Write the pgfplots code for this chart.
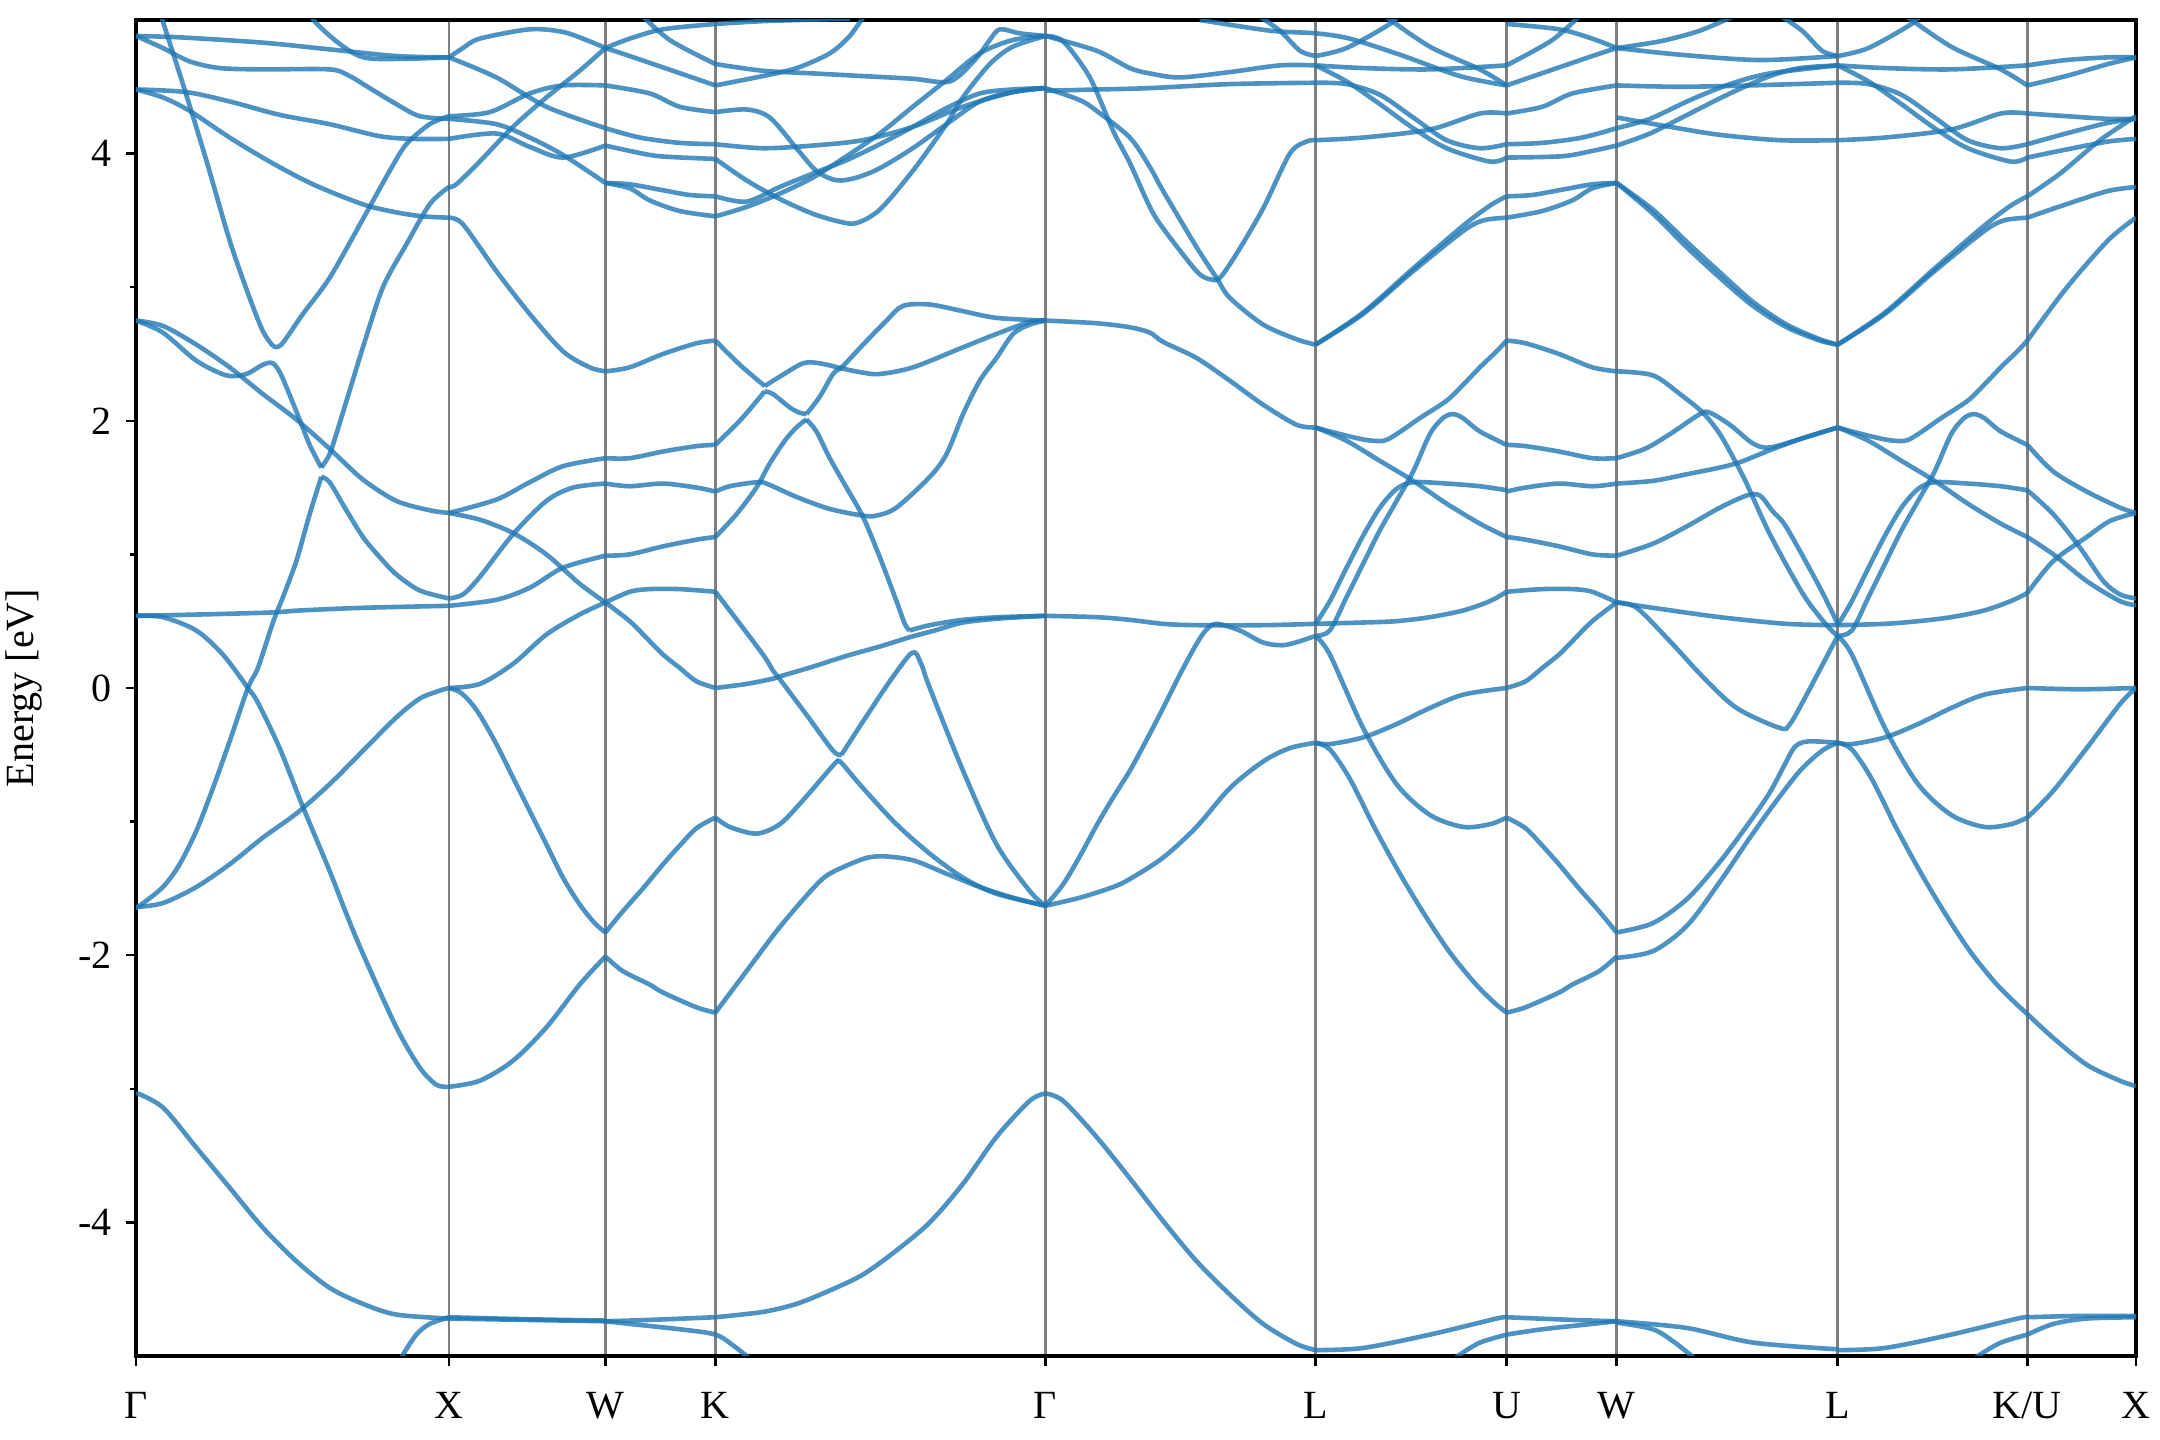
\documentclass[border=0pt]{standalone}
\usepackage{fontspec}
\setmainfont{Liberation Serif}
\usepackage{pgfplots}
\pgfplotsset{compat=1.18}
\usetikzlibrary{calc}
\definecolor{tabblue}{RGB}{31,119,180}
\begin{document}
\fontsize{10}{12}\selectfont
\begin{tikzpicture}
\begin{axis}[
  width=500pt, height=334pt, scale only axis,
  xmin=136.4, xmax=2136, ymin=-5, ymax=5,
  xtick={136.4,449.3,605.7,715.7,1045.7,1315.7,1506.7,1616.7,1837.7,2027.3,2136},
  xticklabels={Γ,X,W,K,Γ,L,U,W,L,K/U,X},
  xticklabel style={yshift=-3pt},
  ytick={-4,-2,0,2,4}, yticklabels={-4,-2,0,2,4},
  minor ytick={-3,-1,1,3},
  tick pos=left, tick align=outside,
  major tick length=2.6pt, minor tick length=1.5pt,
  tick style={black, line width=0.6pt},
  xmajorgrids, grid style={black!50, line width=0.6pt},
  axis line style={line width=0.8pt},
  ylabel={Energy [eV]},
  ylabel style={at={(axis description cs:0,0.5)}, anchor=center, yshift=28pt},
  cycle list={{tabblue}},
  every axis plot post/.append style={no marks, solid, smooth, tension=0.5, line width=1.15pt, color=tabblue, opacity=0.8},
]
% ---------------- Gamma - X ----------------
\addplot coordinates {(136.4,-3.03) (163.3,-3.14) (196.7,-3.44) (230,-3.74) (263.3,-4.04) (296.7,-4.29) (330,-4.49) (363.3,-4.61) (396.7,-4.69) (449.3,-4.72)};
\addplot coordinates {(395,-5.1) (403.3,-4.99) (416.7,-4.84) (430,-4.76) (449.3,-4.71)};
\addplot coordinates {(136.4,-1.64) (163.3,-1.61) (196.7,-1.49) (230,-1.32) (263.3,-1.12) (296.7,-0.94) (330,-0.72) (363.3,-0.47) (396.7,-0.22) (420,-0.08) (440,-0.02) (449.3,0)};
\addplot coordinates {(136.4,-1.64) (140,-1.63) (163.3,-1.49) (180,-1.32) (196.7,-1.07) (213.3,-0.75) (230,-0.40) (248.3,0.0) (258.3,0.15) (273.3,0.49) (283.3,0.68) (296.7,0.95) (310,1.30) (321.7,1.58)};
\addplot coordinates {(321.7,1.58) (330,1.54) (346.7,1.33) (363.3,1.13) (380,0.98) (396.7,0.85) (420,0.73) (449.3,0.67)};
\addplot coordinates {(136.4,0.54) (200,0.55) (271.7,0.565) (300,0.58) (363.3,0.60) (449.3,0.615)};
\addplot coordinates {(136.4,0.54) (163.3,0.53) (196.7,0.43) (223.3,0.25) (248.3,0.0) (258.3,-0.11) (280,-0.45) (303.3,-0.89) (330,-1.37) (346.7,-1.69) (363.3,-1.99) (396.7,-2.54) (420,-2.84) (436.7,-2.97) (449.3,-2.985)};
\addplot coordinates {(136.4,2.75) (163.3,2.71) (196.7,2.57) (230,2.40) (263.3,2.20) (296.7,2.01) (330,1.79) (363.3,1.56) (396.7,1.40) (430,1.33) (449.3,1.31)};
\addplot coordinates {(136.4,2.75) (163.3,2.66) (196.7,2.45) (226.7,2.34) (246.7,2.35) (263.3,2.42) (273.3,2.43) (281.7,2.34) (296.7,2.07) (310,1.82) (321.7,1.65)};
\addplot coordinates {(321.7,1.65) (330,1.75) (338.3,1.94) (363.3,2.55) (383.3,3.00) (406.7,3.32) (430,3.62) (449.3,3.75)};
\addplot coordinates {(158,5.15) (163.3,4.99) (183.3,4.52) (206.7,3.95) (230,3.35) (250,2.92) (263.3,2.67) (273.3,2.56)};
\addplot coordinates {(273.3,2.56) (281.7,2.57) (303.3,2.80) (330,3.07) (363.3,3.51) (390,3.87) (406.7,4.07) (430,4.22) (449.3,4.28)};
\addplot coordinates {(136.4,4.48) (163.3,4.42) (190,4.32) (230,4.12) (270,3.94) (313.3,3.77) (363.3,3.62) (396.7,3.56) (423.3,3.53) (449.3,3.52)};
\addplot coordinates {(136.4,4.48) (186.7,4.46) (230,4.39) (280,4.29) (330,4.22) (380,4.13) (413.3,4.11) (449.3,4.11)};
\addplot coordinates {(136.4,4.88) (180,4.87) (263.3,4.83) (330,4.78) (396.7,4.73) (449.3,4.72)};
\addplot coordinates {(136.4,4.88) (163.3,4.79) (190,4.69) (220,4.64) (263.3,4.63) (330,4.63) (350,4.58) (370,4.49) (396.7,4.37) (420,4.28) (449.3,4.26)};
\addplot coordinates {(308,5.1) (315,4.99) (336.7,4.84) (356.7,4.74) (373.3,4.71) (410,4.71) (449.3,4.72)};
% ---------------- X - W ----------------
\addplot coordinates {(449.3,-4.72) (527,-4.73) (605.7,-4.74)};
\addplot coordinates {(449.3,-4.71) (527,-4.725) (605.7,-4.735)};
\addplot coordinates {(449.3,-2.985) (480,-2.94) (513.3,-2.79) (546.7,-2.54) (580,-2.22) (605.7,-2.01)};
\addplot coordinates {(449.3,0) (460,-0.03) (470,-0.10) (480,-0.20) (496.7,-0.42) (513.3,-0.67) (530,-0.92) (546.7,-1.17) (563.3,-1.42) (580,-1.62) (595,-1.76) (605.7,-1.83)};
\addplot coordinates {(449.3,0) (480,0.03) (513.3,0.18) (546.7,0.40) (580,0.55) (605.7,0.64)};
\addplot coordinates {(449.3,0.615) (496.7,0.66) (530,0.75) (563.3,0.90) (605.7,0.99)};
\addplot coordinates {(449.3,0.67) (463.3,0.70) (480,0.83) (513.3,1.15) (546.7,1.40) (573.3,1.50) (605.7,1.53)};
\addplot coordinates {(449.3,1.31) (480,1.26) (513.3,1.16) (546.7,1.00) (580,0.78) (605.7,0.64)};
\addplot coordinates {(449.3,1.31) (496.7,1.41) (530,1.54) (563.3,1.66) (605.7,1.72)};
\addplot coordinates {(449.3,3.52) (463.3,3.47) (496.7,3.12) (530,2.80) (563.3,2.52) (590,2.40) (605.7,2.37)};
\addplot coordinates {(449.3,4.72) (463.3,4.79) (480,4.86) (530,4.93) (563.3,4.91) (590,4.84) (605.7,4.79)};
\addplot coordinates {(449.3,3.75) (456.7,3.77) (480,3.94) (513.3,4.20) (546.7,4.42) (580,4.62) (605.7,4.79)};
\addplot coordinates {(449.3,4.28) (490,4.31) (530,4.45) (563.3,4.51) (605.7,4.51)};
\addplot coordinates {(449.3,4.26) (496.7,4.22) (530,4.12) (563.3,3.99) (605.7,3.78)};
\addplot coordinates {(449.3,4.11) (496.7,4.15) (530,4.05) (563.3,3.97) (605.7,4.06)};
\addplot coordinates {(449.3,4.72) (496.7,4.57) (546.7,4.35) (605.7,4.19)};
% ---------------- W - K ----------------
\addplot coordinates {(605.7,-4.74) (650,-4.73) (715.7,-4.71)};
\addplot coordinates {(605.7,-4.74) (630,-4.76) (680,-4.80) (715.7,-4.84) (735,-4.93) (755,-5.05)};
\addplot coordinates {(605.7,-2.01) (623.3,-2.12) (650,-2.22) (663.3,-2.28) (696.7,-2.39) (715.7,-2.43)};
\addplot coordinates {(605.7,-1.83) (623.3,-1.67) (643.3,-1.50) (663.3,-1.32) (680,-1.18) (696.7,-1.05) (715.7,-0.97)};
\addplot coordinates {(605.7,0.64) (630,0.50) (650,0.35) (663.3,0.25) (680,0.15) (696.7,0.05) (715.7,0.0)};
\addplot coordinates {(605.7,0.64) (630,0.72) (650,0.74) (680,0.74) (715.7,0.72)};
\addplot coordinates {(605.7,0.99) (630,1.00) (663.3,1.06) (696.7,1.11) (715.7,1.13)};
\addplot coordinates {(605.7,1.53) (630,1.51) (663.3,1.53) (696.7,1.50) (715.7,1.47)};
\addplot coordinates {(605.7,1.72) (630,1.72) (663.3,1.77) (696.7,1.81) (715.7,1.82)};
\addplot coordinates {(605.7,2.37) (630,2.40) (663.3,2.50) (696.7,2.58) (715.7,2.60)};
\addplot coordinates {(605.7,3.78) (630,3.74) (650,3.65) (680,3.57) (715.7,3.53)};
\addplot coordinates {(605.7,3.78) (630,3.77) (660,3.73) (690,3.69) (715.7,3.68)};
\addplot coordinates {(605.7,4.06) (630,4.02) (660,3.98) (715.7,3.96)};
\addplot coordinates {(605.7,4.19) (640,4.12) (680,4.08) (715.7,4.07)};
\addplot coordinates {(605.7,4.51) (650,4.45) (680,4.35) (715.7,4.31)};
\addplot coordinates {(605.7,4.79) (630,4.73) (673,4.62) (715.7,4.51)};
\addplot coordinates {(605.7,4.79) (630,4.86) (663,4.93) (715.7,4.97)};
\addplot coordinates {(640,5.05) (670,4.85) (715.7,4.67)};
% ---------------- K - Gamma ----------------
\addplot coordinates {(715.7,-4.71) (763.3,-4.67) (796.7,-4.61) (830,-4.51) (863.3,-4.39) (896.7,-4.21) (930,-4.00) (963.3,-3.71) (996.7,-3.36) (1030,-3.09) (1045.7,-3.035)};
\addplot coordinates {(715.7,-2.43) (746.7,-2.12) (780,-1.79) (813.3,-1.50) (830,-1.39) (863.3,-1.28) (883.3,-1.26) (913.3,-1.29) (946.7,-1.39) (980,-1.49) (1013.3,-1.57) (1045.7,-1.63)};
\addplot coordinates {(715.7,-0.97) (730,-1.04) (756.7,-1.09) (780,-1.02) (803.3,-0.84) (833.3,-0.58) (838,-0.55)};
\addplot coordinates {(838,-0.55) (841.7,-0.56) (863.3,-0.75) (896.7,-1.02) (930,-1.24) (963.3,-1.42) (996.7,-1.54) (1045.7,-1.63)};
\addplot coordinates {(715.7,0.72) (730,0.58) (763.3,0.25) (773.3,0.13) (781.7,0.05) (806.7,-0.20) (833.3,-0.47) (841.7,-0.50)};
\addplot coordinates {(841.7,-0.50) (863.3,-0.25) (890,0.05) (910,0.25) (916.7,0.26)};
\addplot coordinates {(916.7,0.26) (923,0.15) (930,0.0) (963.3,-0.62) (996.7,-1.17) (1030,-1.52) (1045.7,-1.63)};
\addplot coordinates {(715.7,0.0) (746.7,0.03) (773.3,0.07) (781.7,0.09) (813.3,0.16) (846.7,0.24) (880,0.31) (910,0.38) (935,0.43) (963.3,0.49) (1000,0.52) (1045.7,0.54)};
\addplot coordinates {(715.7,1.13) (736.7,1.30) (756.7,1.50) (770,1.68) (785,1.85) (796.7,1.95) (806.7,2.01)};
\addplot coordinates {(806.7,2.01) (816.7,1.92) (830,1.72) (846.7,1.50) (863.3,1.28) (880,0.98) (896.7,0.65) (905,0.48) (910,0.43)};
\addplot coordinates {(910,0.43) (930,0.47) (963.3,0.51) (1000,0.53) (1045.7,0.54)};
\addplot coordinates {(715.7,1.47) (730,1.51) (756.7,1.54) (766.7,1.53) (796.7,1.43) (830,1.34) (863.3,1.29) (876.7,1.29) (896.7,1.35) (930,1.58) (946.7,1.75) (963.3,2.05) (980,2.30) (996.7,2.47) (1013.3,2.65) (1030,2.72) (1045.7,2.75)};
\addplot coordinates {(715.7,1.82) (740,2.00) (755,2.13) (765,2.22)};
\addplot coordinates {(765,2.22) (773.3,2.20) (790,2.10) (800,2.06) (806.7,2.05)};
\addplot coordinates {(806.7,2.05) (820,2.18) (833.3,2.35) (843.3,2.41) (863.3,2.57) (886.7,2.75) (903.3,2.86) (930,2.87) (963.3,2.82) (996.7,2.77) (1045.7,2.75)};
\addplot coordinates {(715.7,2.60) (740,2.42) (765,2.26)};
\addplot coordinates {(765,2.26) (780,2.33) (803.3,2.43) (820,2.43) (843.3,2.39) (863.3,2.36) (880,2.35) (913.3,2.40) (963.3,2.55) (996.7,2.65) (1030,2.74) (1045.7,2.75)};
\addplot coordinates {(715.7,4.97) (760,4.99) (800,5.0) (850,5.01)};
\addplot coordinates {(715.7,4.51) (763,4.58) (797,4.64) (830,4.75) (850,4.88) (866,5.05)};
\addplot coordinates {(715.7,4.67) (763,4.62) (813,4.60) (863,4.58) (913,4.56) (950,4.54) (975,4.70) (990,4.85) (1000,4.93) (1020,4.90) (1045.7,4.88)};
\addplot coordinates {(715.7,4.31) (746.7,4.33) (770,4.27) (796.7,4.04) (816.7,3.87) (836.7,3.80) (856.7,3.82) (880,3.89) (913,4.04) (946.7,4.22) (980,4.39) (1013,4.46) (1045.7,4.49)};
\addplot coordinates {(715.7,3.96) (746.7,3.80) (780,3.66) (813,3.55) (840,3.49) (856.7,3.48) (880,3.58) (913,3.87) (946.7,4.22) (963,4.42) (990,4.67) (1013,4.80) (1045.7,4.88)};
\addplot coordinates {(715.7,3.68) (746.7,3.64) (780,3.75) (813,3.85) (846.7,3.95) (880,4.07) (913,4.20) (946.7,4.34) (980,4.45) (1013,4.48) (1045.7,4.49)};
\addplot coordinates {(715.7,3.53) (746.7,3.60) (780,3.70) (813,3.82) (846.7,3.98) (880,4.15) (913,4.35) (946.7,4.55) (980,4.75) (1013,4.85) (1045.7,4.88)};
\addplot coordinates {(715.7,4.07) (763,4.04) (813,4.06) (863,4.10) (913,4.20) (963,4.35) (1013,4.46) (1045.7,4.49)};
% ---------------- Gamma - L ----------------
\addplot coordinates {(1045.7,-3.035) (1063.3,-3.09) (1096.7,-3.36) (1130,-3.67) (1163.3,-3.99) (1196.7,-4.29) (1230,-4.54) (1263.3,-4.76) (1296.7,-4.91) (1315.7,-4.956)};
\addplot coordinates {(1045.7,-1.63) (1080,-1.57) (1113.3,-1.49) (1130,-1.43) (1163.3,-1.27) (1196.7,-1.04) (1230,-0.75) (1263.3,-0.55) (1290,-0.45) (1315.7,-0.41)};
\addplot coordinates {(1045.7,-1.63) (1063.3,-1.47) (1080,-1.26) (1096.7,-1.03) (1113.3,-0.82) (1130,-0.62) (1146.7,-0.39) (1163.3,-0.15) (1180,0.10) (1196.7,0.33) (1207,0.44) (1217,0.48) (1240,0.43) (1263.3,0.34) (1283,0.32) (1300,0.35) (1315.7,0.39)};
\addplot coordinates {(1045.7,0.54) (1096.7,0.53) (1130,0.51) (1163.3,0.48) (1197,0.47) (1263.3,0.47) (1315.7,0.48)};
\addplot coordinates {(1045.7,2.75) (1096.7,2.73) (1130,2.70) (1150,2.66) (1163.3,2.59) (1196.7,2.47) (1230,2.30) (1263.3,2.12) (1296.7,1.97) (1315.7,1.95)};
\addplot coordinates {(1045.7,4.49) (1080,4.40) (1096.7,4.32) (1130,4.12) (1150,3.90) (1163.3,3.72) (1196.7,3.30) (1216.7,3.07) (1230,2.92) (1263.3,2.72) (1296.7,2.61) (1315.7,2.57)};
\addplot coordinates {(1045.7,4.88) (1063.3,4.84) (1090,4.57) (1113.3,4.17) (1130,3.93) (1150,3.60) (1163.3,3.44) (1196.7,3.12) (1210,3.06) (1220,3.07) (1236.7,3.25) (1263.3,3.59) (1290,4.00) (1306.7,4.09) (1315.7,4.10)};
\addplot coordinates {(1045.7,4.88) (1096.7,4.77) (1130,4.64) (1150,4.60) (1180,4.57) (1230,4.61) (1280,4.66) (1315.7,4.66)};
\addplot coordinates {(1045.7,4.47) (1100,4.48) (1150,4.49) (1230,4.52) (1315.7,4.53)};
\addplot coordinates {(1200,5.0) (1270,4.92) (1315.7,4.90) (1350,4.86) (1400,4.74) (1460,4.58) (1506.7,4.51)};
\addplot coordinates {(1255,5.05) (1280,4.92) (1300,4.77) (1315.7,4.73)};
% ---------------- L - U ----------------
\addplot coordinates {(1315.7,-4.956) (1363.3,-4.94) (1430,-4.84) (1496.7,-4.72) (1506.7,-4.71)};
\addplot coordinates {(1450,-5.05) (1460,-4.99) (1480,-4.90) (1506.7,-4.84)};
\addplot coordinates {(1315.7,-0.41) (1330,-0.46) (1350,-0.68) (1375,-1.05) (1400,-1.39) (1425,-1.70) (1450,-1.98) (1475,-2.21) (1495,-2.36) (1506.7,-2.43)};
\addplot coordinates {(1315.7,-0.41) (1330,-0.42) (1363.3,-0.37) (1396.7,-0.27) (1430,-0.15) (1463.3,-0.05) (1506.7,0.0)};
\addplot coordinates {(1315.7,0.39) (1330,0.25) (1363.3,-0.30) (1396.7,-0.72) (1430,-0.95) (1463.3,-1.04) (1490,-1.02) (1506.7,-0.97)};
\addplot coordinates {(1315.7,0.48) (1363.3,0.49) (1396.7,0.50) (1430,0.53) (1463.3,0.58) (1490,0.65) (1506.7,0.72)};
\addplot coordinates {(1315.7,0.48) (1330,0.65) (1346.7,0.90) (1363.3,1.14) (1380,1.35) (1396.7,1.49) (1413.3,1.54) (1446.7,1.53) (1480,1.51) (1506.7,1.48)};
\addplot coordinates {(1315.7,0.39) (1330,0.43) (1346.7,0.68) (1363.3,0.93) (1380,1.18) (1396.7,1.40) (1413.3,1.62) (1430,1.90) (1443,2.02) (1453,2.05) (1463,2.02) (1480,1.92) (1506.7,1.82)};
\addplot coordinates {(1315.7,1.95) (1330,1.92) (1363.3,1.86) (1383.3,1.85) (1396.7,1.90) (1420,2.02) (1446.7,2.15) (1463.3,2.27) (1480,2.40) (1496.7,2.52) (1506.7,2.60)};
\addplot coordinates {(1315.7,1.95) (1346.7,1.85) (1380,1.70) (1413.3,1.55) (1446.7,1.38) (1480,1.23) (1506.7,1.13)};
\addplot coordinates {(1315.7,2.57) (1363.3,2.80) (1413.3,3.12) (1463.3,3.42) (1483.3,3.50) (1506.7,3.52)};
\addplot coordinates {(1315.7,2.57) (1363.3,2.81) (1413.3,3.14) (1463.3,3.46) (1490,3.61) (1506.7,3.68)};
\addplot coordinates {(1315.7,4.10) (1363.3,4.12) (1430,4.18) (1480,4.30) (1506.7,4.30)};
\addplot coordinates {(1315.7,4.53) (1346.7,4.52) (1380,4.44) (1413.3,4.27) (1446.7,4.10) (1480,4.04) (1506.7,4.07)};
\addplot coordinates {(1315.7,4.66) (1363.3,4.64) (1430,4.63) (1506.7,4.66)};
\addplot coordinates {(1315.7,4.66) (1346.7,4.54) (1380,4.37) (1413.3,4.19) (1446.7,4.04) (1490,3.94) (1506.7,3.97)};
\addplot coordinates {(1315.7,4.73) (1346.7,4.79) (1390,4.97) (1400,5.05)};
\addplot coordinates {(1385,5.03) (1430,4.80) (1480,4.63) (1506.7,4.51)};
% ---------------- U - W (mirror of W-K) ----------------
\addplot coordinates {(1506.7,-4.71) (1572.4,-4.73) (1616.7,-4.74)};
\addplot coordinates {(1506.7,-4.84) (1542.4,-4.80) (1592.4,-4.76) (1616.7,-4.74)};
\addplot coordinates {(1506.7,-2.43) (1525.7,-2.39) (1559.1,-2.28) (1572.4,-2.22) (1599.1,-2.12) (1616.7,-2.01)};
\addplot coordinates {(1506.7,-0.97) (1525.7,-1.05) (1542.4,-1.18) (1559.1,-1.32) (1579.1,-1.50) (1599.1,-1.67) (1616.7,-1.83)};
\addplot coordinates {(1506.7,0.0) (1525.7,0.05) (1542.4,0.15) (1559.1,0.25) (1572.4,0.35) (1592.4,0.50) (1616.7,0.64)};
\addplot coordinates {(1506.7,0.72) (1542.4,0.74) (1572.4,0.74) (1592.4,0.72) (1616.7,0.64)};
\addplot coordinates {(1506.7,1.13) (1525.7,1.11) (1559.1,1.06) (1592.4,1.00) (1616.7,0.99)};
\addplot coordinates {(1506.7,1.47) (1525.7,1.50) (1559.1,1.53) (1592.4,1.51) (1616.7,1.53)};
\addplot coordinates {(1506.7,1.82) (1525.7,1.81) (1559.1,1.77) (1592.4,1.72) (1616.7,1.72)};
\addplot coordinates {(1506.7,2.60) (1525.7,2.58) (1559.1,2.50) (1592.4,2.40) (1616.7,2.37)};
\addplot coordinates {(1506.7,3.52) (1542.4,3.57) (1572.4,3.65) (1592.4,3.74) (1616.7,3.78)};
\addplot coordinates {(1506.7,3.68) (1532.4,3.69) (1562.4,3.73) (1592.4,3.77) (1616.7,3.78)};
\addplot coordinates {(1506.7,3.97) (1562.4,3.98) (1592.4,4.02) (1616.7,4.06)};
\addplot coordinates {(1506.7,4.07) (1542.4,4.08) (1582.4,4.12) (1616.7,4.19)};
\addplot coordinates {(1506.7,4.30) (1542.4,4.35) (1572.4,4.45) (1616.7,4.51)};
\addplot coordinates {(1506.7,4.51) (1549.4,4.62) (1592.4,4.73) (1616.7,4.79)};
\addplot coordinates {(1506.7,4.97) (1559.4,4.93) (1592.4,4.86) (1616.7,4.79)};
\addplot coordinates {(1506.7,4.66) (1552.4,4.85) (1582.4,5.05)};
% ---------------- W - L ----------------
\addplot coordinates {(1616.7,-4.74) (1686.7,-4.79) (1753.3,-4.90) (1837.7,-4.95)};
\addplot coordinates {(1616.7,-4.75) (1653,-4.80) (1675,-4.90) (1700,-5.05)};
\addplot coordinates {(1616.7,-1.83) (1653,-1.76) (1687,-1.58) (1720,-1.30) (1750,-1.00) (1770,-0.78) (1785,-0.57) (1795,-0.44) (1808,-0.40) (1837.7,-0.41)};
\addplot coordinates {(1616.7,-2.02) (1653,-1.97) (1687,-1.78) (1720,-1.45) (1750,-1.12) (1775,-0.86) (1800,-0.62) (1822,-0.47) (1837.7,-0.41)};
\addplot coordinates {(1616.7,0.64) (1636.7,0.60) (1670,0.35) (1703.3,0.08) (1736.7,-0.15) (1780,-0.30) (1790,-0.27) (1806.7,-0.05) (1837.7,0.39)};
\addplot coordinates {(1616.7,0.64) (1653,0.60) (1720,0.53) (1786.7,0.48) (1837.7,0.47)};
\addplot coordinates {(1616.7,0.99) (1653,1.08) (1687,1.21) (1720,1.35) (1746.7,1.44) (1760,1.44) (1773,1.32) (1786.7,1.20) (1820,0.75) (1837.7,0.48)};
\addplot coordinates {(1616.7,2.37) (1653,2.34) (1680,2.20) (1703,2.06) (1720,1.90) (1735,1.70) (1746.7,1.53) (1770,1.15) (1803.3,0.70) (1826.7,0.47) (1837.7,0.39)};
\addplot coordinates {(1616.7,1.53) (1653,1.55) (1687,1.60) (1720,1.65) (1740,1.69) (1770,1.78) (1803,1.87) (1837.7,1.95)};
\addplot coordinates {(1616.7,1.72) (1645,1.79) (1670,1.90) (1700,2.05) (1710,2.06) (1730,1.97) (1753,1.83) (1770,1.80) (1803,1.87) (1837.7,1.95)};
\addplot coordinates {(1616.7,3.78) (1653,3.55) (1686.7,3.30) (1720,3.07) (1753,2.86) (1786.7,2.70) (1820,2.60) (1837.7,2.57)};
\addplot coordinates {(1616.7,3.78) (1653,3.58) (1686.7,3.34) (1720,3.11) (1753,2.89) (1786.7,2.72) (1820,2.61) (1837.7,2.57)};
\addplot coordinates {(1616.7,4.06) (1650,4.15) (1690,4.30) (1730,4.45) (1770,4.58) (1800,4.64) (1837.7,4.66)};
\addplot coordinates {(1616.7,4.19) (1650,4.26) (1690,4.40) (1730,4.52) (1770,4.60) (1837.7,4.66)};
\addplot coordinates {(1616.7,4.27) (1670,4.20) (1720,4.14) (1780,4.10) (1837.7,4.10)};
\addplot coordinates {(1616.7,4.51) (1680,4.50) (1750,4.51) (1837.7,4.53)};
\addplot coordinates {(1616.7,4.79) (1660,4.84) (1700,4.92) (1740,5.05)};
\addplot coordinates {(1616.7,4.79) (1680,4.74) (1760,4.70) (1837.7,4.73)};
% ---------------- L - K/U (equivalent to L-U) ----------------
\addplot coordinates {(1837.7,-4.956) (1885,-4.94) (1951.2,-4.84) (2017.4,-4.72) (2027.3,-4.71)};
\addplot coordinates {(1970,-5.05) (1980,-4.99) (2000.8,-4.90) (2027.3,-4.84)};
\addplot coordinates {(1837.7,-0.41) (1851.9,-0.46) (1871.7,-0.68) (1896.5,-1.05) (1921.3,-1.39) (1946.1,-1.70) (1970.9,-1.98) (1995.7,-2.21) (2015.6,-2.36) (2027.3,-2.44)};
\addplot coordinates {(1837.7,-0.41) (1851.9,-0.42) (1885,-0.37) (1918.1,-0.27) (1951.2,-0.15) (1984.2,-0.05) (2027.3,0.0)};
\addplot coordinates {(1837.7,0.39) (1851.9,0.25) (1885,-0.30) (1918.1,-0.72) (1951.2,-0.95) (1984.2,-1.04) (2010.7,-1.02) (2027.3,-0.97)};
\addplot coordinates {(1837.7,0.47) (1885,0.48) (1918.1,0.50) (1951.2,0.53) (1984.2,0.58) (2010.7,0.65) (2027.3,0.71)};
\addplot coordinates {(1837.7,0.47) (1851.9,0.65) (1868.5,0.90) (1885,1.14) (1901.5,1.35) (1918.1,1.49) (1934.6,1.54) (1967.7,1.53) (2000.8,1.51) (2027.3,1.48)};
\addplot coordinates {(1837.7,0.39) (1851.9,0.43) (1868.5,0.68) (1885,0.93) (1901.5,1.18) (1918.1,1.40) (1934.6,1.62) (1951.2,1.90) (1964.1,2.02) (1974,2.05) (1984.2,2.02) (2000.8,1.92) (2027.3,1.82)};
\addplot coordinates {(1837.7,1.95) (1851.9,1.92) (1885,1.86) (1904.8,1.85) (1918.1,1.90) (1941.2,2.02) (1967.7,2.15) (1984.2,2.27) (2000.8,2.40) (2017.4,2.52) (2027.3,2.60)};
\addplot coordinates {(1837.7,1.95) (1868.5,1.85) (1901.5,1.70) (1934.6,1.55) (1967.7,1.38) (2000.8,1.23) (2027.3,1.13)};
\addplot coordinates {(1837.7,2.57) (1885,2.80) (1934.6,3.12) (1984.2,3.42) (2004.1,3.50) (2027.3,3.52)};
\addplot coordinates {(1837.7,2.57) (1885,2.81) (1934.6,3.14) (1984.2,3.46) (2010.7,3.61) (2027.3,3.68)};
\addplot coordinates {(1837.7,4.10) (1885,4.12) (1951.2,4.18) (2000.8,4.30) (2027.3,4.30)};
\addplot coordinates {(1837.7,4.53) (1868.5,4.52) (1901.5,4.44) (1934.6,4.27) (1967.7,4.10) (2000.8,4.04) (2027.3,4.07)};
\addplot coordinates {(1837.7,4.66) (1885,4.64) (1951.2,4.63) (2027.3,4.66)};
\addplot coordinates {(1837.7,4.66) (1868.5,4.54) (1901.5,4.37) (1934.6,4.19) (1967.7,4.04) (2010.7,3.94) (2027.3,3.97)};
\addplot coordinates {(1837.7,4.73) (1868.5,4.79) (1911.5,4.97) (1921.5,5.05)};
\addplot coordinates {(1777,5.05) (1802,4.92) (1822,4.77) (1837.7,4.73)};
\addplot coordinates {(1906,5.03) (1951.2,4.80) (2000.8,4.63) (2027.3,4.51)};
% ---------------- K/U - X ----------------
\addplot coordinates {(2027.3,-4.71) (2080,-4.70) (2136,-4.70)};
\addplot coordinates {(2027.3,-4.84) (2053.3,-4.76) (2086.7,-4.72) (2136,-4.71)};
\addplot coordinates {(2027.3,-2.44) (2053.3,-2.62) (2086.7,-2.82) (2120,-2.94) (2136,-2.98)};
\addplot coordinates {(2027.3,-0.97) (2053.3,-0.77) (2086.7,-0.45) (2120,-0.12) (2136,0.0)};
\addplot coordinates {(2027.3,0.0) (2080,-0.01) (2136,0.0)};
\addplot coordinates {(2027.3,0.71) (2053.3,0.95) (2086.7,1.13) (2110,1.25) (2136,1.31)};
\addplot coordinates {(2027.3,1.13) (2053.3,1.00) (2086.7,0.80) (2120,0.65) (2136,0.62)};
\addplot coordinates {(2027.3,1.48) (2053.3,1.30) (2080,1.05) (2103.3,0.80) (2120,0.70) (2136,0.67)};
\addplot coordinates {(2027.3,1.82) (2053.3,1.62) (2086.7,1.47) (2120,1.35) (2136,1.31)};
\addplot coordinates {(2027.3,2.60) (2066,2.99) (2108,3.35) (2136,3.52)};
\addplot coordinates {(2027.3,3.52) (2066,3.62) (2108,3.72) (2136,3.75)};
\addplot coordinates {(2027.3,3.68) (2060,3.85) (2100,4.10) (2136,4.28)};
\addplot coordinates {(2027.3,3.97) (2066,4.03) (2108,4.09) (2136,4.11)};
\addplot coordinates {(2027.3,4.07) (2066,4.15) (2108,4.23) (2136,4.26)};
\addplot coordinates {(2027.3,4.30) (2066,4.28) (2108,4.26) (2136,4.26)};
\addplot coordinates {(2027.3,4.51) (2066,4.58) (2108,4.67) (2136,4.72)};
\addplot coordinates {(2027.3,4.66) (2066,4.70) (2108,4.72) (2136,4.72)};
\end{axis}
\pgfresetboundingbox
\path ($(current axis.south west)+(-34pt,-21pt)$) rectangle ($(current axis.north east)+(6pt,5pt)$);
\end{tikzpicture}
\end{document}
